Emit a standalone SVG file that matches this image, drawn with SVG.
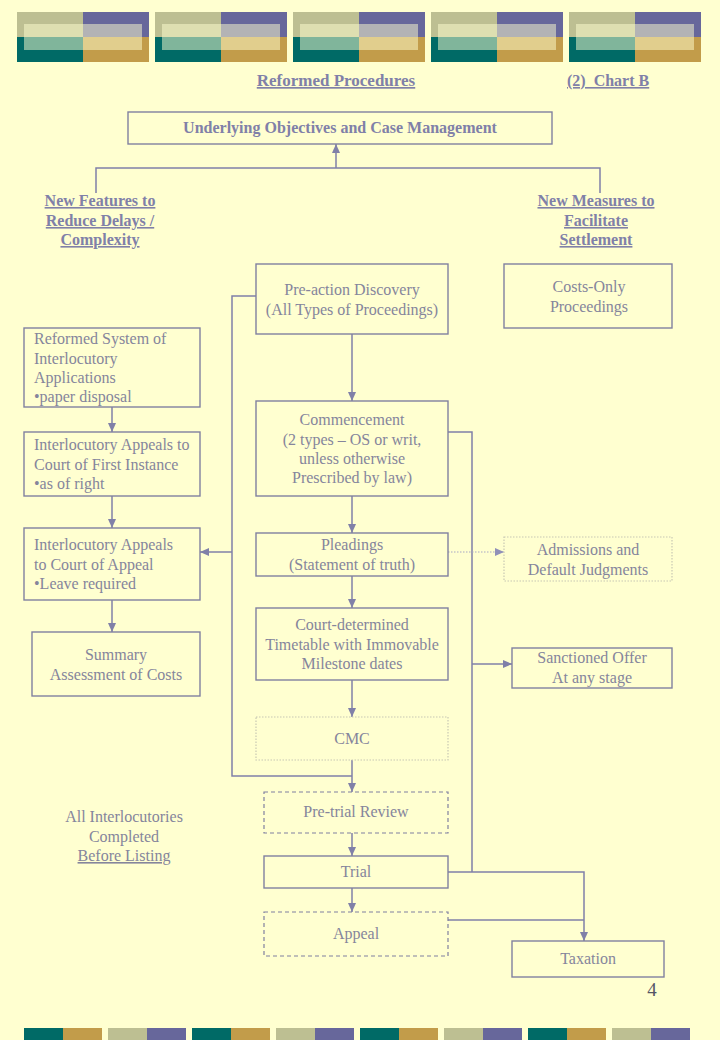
<svg xmlns="http://www.w3.org/2000/svg" width="720" height="1040" viewBox="0 0 720 1040">
<defs>
<style>
.t{font-family:"Liberation Serif","Times New Roman",serif;font-size:16px;fill:#85859C}
.h{font-family:"Liberation Serif","Times New Roman",serif;font-size:16px;font-weight:bold;fill:#8080A8;text-decoration:underline}
.c{text-anchor:middle}
.box{fill:none;stroke:#8080A0;stroke-width:1.4}
.dash{fill:none;stroke:#8080A0;stroke-width:1.2;stroke-dasharray:4 3}
.dot{fill:none;stroke:#C8C8B4;stroke-width:1.2;stroke-dasharray:1.5 1.5}
.ln{fill:none;stroke:#8080A8;stroke-width:1.5}
.dl{fill:none;stroke:#A8A8C4;stroke-width:1.2;stroke-dasharray:1.5 1.5}
.ov{fill:#FFFFD0;opacity:0.5}
</style>
<marker id="ar" markerUnits="userSpaceOnUse" markerWidth="9" markerHeight="8" refX="9" refY="4" orient="auto">
<path d="M0,0 L9,4 L0,8 z" fill="#8080A8"/>
</marker>
<marker id="ar2" markerUnits="userSpaceOnUse" markerWidth="9" markerHeight="8" refX="9" refY="4" orient="auto">
<path d="M0,0 L9,4 L0,8 z" fill="#9090B8"/>
</marker>
<g id="blk">
<rect x="0" y="0" width="66" height="25" fill="#BDBF92"/>
<rect x="66" y="0" width="66" height="25" fill="#67679B"/>
<rect x="0" y="25" width="66" height="25" fill="#006A66"/>
<rect x="66" y="25" width="66" height="25" fill="#C29C4A"/>
<rect x="7" y="12" width="118" height="26" class="ov"/>
</g>
<g id="pair1"><rect x="0" y="0" width="39" height="12" fill="#006A66"/><rect x="39" y="0" width="39" height="12" fill="#C29C4A"/></g>
<g id="pair2"><rect x="0" y="0" width="39" height="12" fill="#BDBF92"/><rect x="39" y="0" width="39" height="12" fill="#67679B"/></g>
</defs>
<rect width="720" height="1040" fill="#FFFFD0"/>
<g id="header">
<use href="#blk" x="17" y="12"/>
<use href="#blk" x="155" y="12"/>
<use href="#blk" x="293" y="12"/>
<use href="#blk" x="431" y="12"/>
<use href="#blk" x="569" y="12"/>
</g>
<g id="footer">
<use href="#pair1" x="24" y="1028"/>
<use href="#pair2" x="108" y="1028"/>
<use href="#pair1" x="192" y="1028"/>
<use href="#pair2" x="276" y="1028"/>
<use href="#pair1" x="360" y="1028"/>
<use href="#pair2" x="444" y="1028"/>
<use href="#pair1" x="528" y="1028"/>
<use href="#pair2" x="612" y="1028"/>
</g>
<g id="titles">
<text class="h c" x="336" y="86" style="font-size:17px">Reformed Procedures</text>
<text class="h" x="567" y="86" style="white-space:pre">(2)  Chart B</text>
</g>
<g id="connectors">
<polyline class="ln" points="96,193 96,168 600,168 600,193"/>
<line class="ln" x1="336" y1="168" x2="336" y2="144" marker-end="url(#ar)"/>
<line class="ln" x1="352" y1="334" x2="352" y2="401" marker-end="url(#ar)"/>
<line class="ln" x1="352" y1="496" x2="352" y2="533" marker-end="url(#ar)"/>
<line class="ln" x1="352" y1="576" x2="352" y2="608" marker-end="url(#ar)"/>
<line class="ln" x1="352" y1="680" x2="352" y2="717" marker-end="url(#ar)"/>
<line class="ln" x1="352" y1="760" x2="352" y2="792" marker-end="url(#ar)"/>
<line class="ln" x1="352" y1="833" x2="352" y2="856" marker-end="url(#ar)"/>
<line class="ln" x1="352" y1="888" x2="352" y2="912" marker-end="url(#ar)"/>
<polyline class="ln" points="256,296 232,296 232,776 352,776"/>
<line class="ln" x1="232" y1="552" x2="200" y2="552" marker-end="url(#ar)"/>
<line class="ln" x1="112" y1="407" x2="112" y2="432" marker-end="url(#ar)"/>
<line class="ln" x1="112" y1="496" x2="112" y2="528" marker-end="url(#ar)"/>
<line class="ln" x1="112" y1="600" x2="112" y2="632" marker-end="url(#ar)"/>
<polyline class="ln" points="448,432 472,432 472,872"/>
<line class="ln" x1="472" y1="664" x2="512" y2="664" marker-end="url(#ar)"/>
<polyline class="ln" points="448,872 584,872 584,941" marker-end="url(#ar)"/>
<line class="ln" x1="448" y1="920" x2="584" y2="920"/>
<line class="dl" x1="448" y1="552" x2="504" y2="552" marker-end="url(#ar2)"/>
</g>
<g id="n-objectives">
<rect class="box" x="128" y="112" width="424" height="32"/>
<text class="h c" x="340" y="133" style="text-decoration:none">Underlying Objectives and Case Management</text>
</g>
<g id="n-features">
<text class="h c" x="100" y="206">New Features to</text>
<text class="h c" x="100" y="226">Reduce Delays /</text>
<text class="h c" x="100" y="245">Complexity</text>
</g>
<g id="n-measures">
<text class="h c" x="596" y="206">New Measures to</text>
<text class="h c" x="596" y="226">Facilitate</text>
<text class="h c" x="596" y="245">Settlement</text>
</g>
<g id="n-preaction">
<rect class="box" x="256" y="264" width="192" height="70"/>
<text class="t c" x="352" y="295">Pre-action Discovery</text>
<text class="t c" x="352" y="315">(All Types of Proceedings)</text>
</g>
<g id="n-costsonly">
<rect class="box" x="504" y="264" width="168" height="64"/>
<text class="t c" x="589" y="292">Costs-Only</text>
<text class="t c" x="589" y="312">Proceedings</text>
</g>
<g id="n-reformed">
<rect class="box" x="24" y="328" width="176" height="79"/>
<text class="t" x="34" y="344">Reformed System of</text>
<text class="t" x="34" y="364">Interlocutory</text>
<text class="t" x="34" y="383">Applications</text>
<text class="t" x="34" y="402">•paper disposal</text>
</g>
<g id="n-cfi">
<rect class="box" x="24" y="432" width="176" height="64"/>
<text class="t" x="34" y="450">Interlocutory Appeals to</text>
<text class="t" x="34" y="470">Court of First Instance</text>
<text class="t" x="34" y="489">•as of right</text>
</g>
<g id="n-coa">
<rect class="box" x="24" y="528" width="176" height="72"/>
<text class="t" x="34" y="550">Interlocutory Appeals</text>
<text class="t" x="34" y="570">to Court of Appeal</text>
<text class="t" x="34" y="589">•Leave required</text>
</g>
<g id="n-summary">
<rect class="box" x="32" y="632" width="168" height="64"/>
<text class="t c" x="116" y="660">Summary</text>
<text class="t c" x="116" y="680">Assessment of Costs</text>
</g>
<g id="n-commencement">
<rect class="box" x="256" y="401" width="192" height="95"/>
<text class="t c" x="352" y="425">Commencement</text>
<text class="t c" x="352" y="445">(2 types – OS or writ,</text>
<text class="t c" x="352" y="464">unless otherwise</text>
<text class="t c" x="352" y="483">Prescribed by law)</text>
</g>
<g id="n-pleadings">
<rect class="box" x="256" y="533" width="192" height="43"/>
<text class="t c" x="352" y="550">Pleadings</text>
<text class="t c" x="352" y="570">(Statement of truth)</text>
</g>
<g id="n-admissions">
<rect class="dot" x="504" y="537" width="168" height="44"/>
<text class="t c" x="588" y="555">Admissions and</text>
<text class="t c" x="588" y="575">Default Judgments</text>
</g>
<g id="n-timetable">
<rect class="box" x="256" y="608" width="192" height="72"/>
<text class="t c" x="352" y="630">Court-determined</text>
<text class="t c" x="352" y="650">Timetable with Immovable</text>
<text class="t c" x="352" y="669">Milestone dates</text>
</g>
<g id="n-sanctioned">
<rect class="box" x="512" y="648" width="160" height="40"/>
<text class="t c" x="592" y="663">Sanctioned Offer</text>
<text class="t c" x="592" y="683">At any stage</text>
</g>
<g id="n-cmc">
<rect class="dot" x="256" y="717" width="192" height="43"/>
<text class="t c" x="352" y="744">CMC</text>
</g>
<g id="n-pretrial">
<rect class="dash" x="264" y="792" width="184" height="41"/>
<text class="t c" x="356" y="817">Pre-trial Review</text>
</g>
<g id="n-interlocutories">
<text class="t c" x="124" y="822">All Interlocutories</text>
<text class="t c" x="124" y="842">Completed</text>
<text class="t c" x="124" y="861" style="text-decoration:underline">Before Listing</text>
</g>
<g id="n-trial">
<rect class="box" x="264" y="856" width="184" height="32"/>
<text class="t c" x="356" y="877">Trial</text>
</g>
<g id="n-appeal">
<rect class="dash" x="264" y="912" width="184" height="44"/>
<text class="t c" x="356" y="939">Appeal</text>
</g>
<g id="n-taxation">
<rect class="box" x="512" y="941" width="152" height="36"/>
<text class="t c" x="588" y="964">Taxation</text>
</g>
<text x="652" y="996" style="font-family:'Liberation Serif',serif;font-size:19px;fill:#555566;text-anchor:middle">4</text>
</svg>
